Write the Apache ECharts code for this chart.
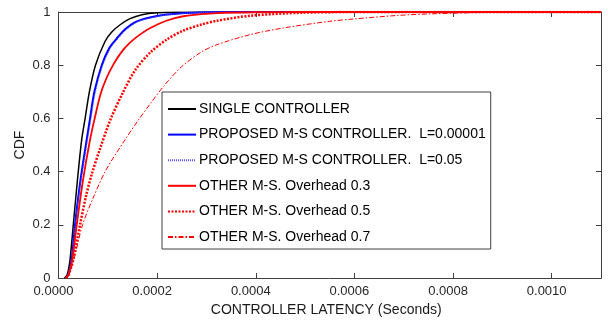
<!DOCTYPE html>
<html>
<head>
<meta charset="utf-8">
<script src="https://cdn.jsdelivr.net/npm/echarts@6/dist/echarts.min.js"></script>
<style>
html,body{margin:0;padding:0;background:#fff;}
#chart{width:608px;height:322px;}
</style>
</head>
<body>
<div id="chart"></div>
<script>
// ---- data (x in seconds, y = CDF) ----
var seriesNames = [
  'SINGLE CONTROLLER',
  'PROPOSED M-S CONTROLLER.  L=0.00001',
  'PROPOSED M-S CONTROLLER.  L=0.05',
  'OTHER M-S. Overhead 0.3',
  'OTHER M-S. Overhead 0.5',
  'OTHER M-S. Overhead 0.7'
];
var xTicks = [0, 0.0002, 0.0004, 0.0006, 0.0008, 0.0010];
var yTicks = [0, 0.2, 0.4, 0.6, 0.8, 1];

var singleX = [0.000012, 0.000017, 0.000020, 0.0000234, 0.000030, 0.000038, 0.000047, 0.000054, 0.0000626, 0.0000750, 0.0000945, 0.000108, 0.000125, 0.000145, 0.000169, 0.000200, 0.000250, 0.000300, 0.0011];
var singleY = [0, 0.01, 0.03, 0.068, 0.20, 0.36, 0.52, 0.60, 0.70, 0.80, 0.89, 0.925, 0.952, 0.975, 0.99, 0.997, 0.999, 1, 1];

var propAX = [0.000015, 0.000019, 0.000022, 0.0000268, 0.0000335, 0.000044, 0.0000572, 0.000064, 0.0000728, 0.0000877, 0.000103, 0.000118, 0.000135, 0.000159, 0.000200, 0.000250, 0.000290, 0.000350, 0.0011];
var propAY = [0, 0.01, 0.03, 0.068, 0.20, 0.36, 0.52, 0.60, 0.70, 0.80, 0.865, 0.90, 0.935, 0.965, 0.985, 0.995, 0.998, 1, 1];

var propBX = [0.000015, 0.000019, 0.000022, 0.000027, 0.000034, 0.000045, 0.000059, 0.000066, 0.000075, 0.000090, 0.000106, 0.000121, 0.000139, 0.000163, 0.000205, 0.000255, 0.000295, 0.000360, 0.0011];
var propBY = [0, 0.01, 0.03, 0.068, 0.20, 0.36, 0.52, 0.60, 0.70, 0.80, 0.865, 0.90, 0.935, 0.965, 0.985, 0.995, 0.998, 1, 1];

var other3X = [0.000015, 0.000020, 0.000023, 0.000028, 0.000037, 0.000049, 0.000064, 0.000074, 0.000085, 0.000097, 0.000112, 0.000128, 0.000145, 0.000165, 0.000186, 0.000220, 0.000253, 0.000290, 0.000321, 0.000400, 0.000500, 0.0011];
var other3Y = [0, 0.01, 0.03, 0.068, 0.20, 0.36, 0.52, 0.605, 0.69, 0.75, 0.805, 0.85, 0.885, 0.915, 0.94, 0.968, 0.984, 0.992, 0.996, 0.999, 1, 1];

var other5X = [0.000015, 0.000020, 0.000024, 0.000030, 0.0000437, 0.000056, 0.0000674, 0.000085, 0.000105, 0.000130, 0.000155, 0.000186, 0.000220, 0.000253, 0.000290, 0.000321, 0.000389, 0.000490, 0.000600, 0.0011];
var other5Y = [0, 0.01, 0.03, 0.068, 0.20, 0.31, 0.39, 0.49, 0.594, 0.695, 0.78, 0.848, 0.897, 0.93, 0.953, 0.967, 0.986, 0.997, 1, 1];

var other7X = [0.000015, 0.000022, 0.000031, 0.0000488, 0.000070, 0.000096, 0.000135, 0.000162, 0.000186, 0.000215, 0.000250, 0.000290, 0.000321, 0.000389, 0.000456, 0.000550, 0.000600, 0.000687, 0.000755, 0.000890, 0.0011];
var other7Y = [0, 0.02, 0.068, 0.20, 0.30, 0.405, 0.52, 0.594, 0.655, 0.725, 0.795, 0.85, 0.877, 0.915, 0.94, 0.965, 0.974, 0.987, 0.993, 0.999, 1];

function pairs(xs, ys) {
  var out = [];
  for (var i = 0; i < xs.length; i++) out.push([xs[i], ys[i]]);
  return out;
}

var chart = echarts.init(document.getElementById('chart'), null, {renderer: 'canvas'});
var FONT = 'Liberation Sans, Arial, Helvetica, sans-serif';
var AXC = '#404040';

function mkSeries(name, xs, ys, color, width, type) {
  return {
    name: name,
    type: 'line',
    data: pairs(xs, ys),
    showSymbol: false,
    symbol: 'none',
    smooth: 0.3,
    animation: false,
    lineStyle: {color: color, width: width, type: type},
    itemStyle: {color: color},
    emphasis: {disabled: true},
    z: 3
  };
}

var option = {
  animation: false,
  backgroundColor: '#ffffff',
  grid: {left: 58.5, right: 7, top: 12, bottom: 44, containLabel: false},
  xAxis: [{
    type: 'value',
    min: 0, max: 0.0011, interval: 0.0002,
    position: 'bottom',
    name: 'CONTROLLER LATENCY (Seconds)',
    nameLocation: 'middle',
    nameGap: 25,
    nameMoveOverlap: false,
    nameTextStyle: {fontFamily: FONT, fontSize: 14, color: '#1a1a1a', padding: [0, 7, 0, 0]},
    axisLine: {show: true, onZero: false, lineStyle: {color: AXC, width: 1}},
    axisTick: {show: true, inside: true, length: 5, lineStyle: {color: AXC}},
    splitLine: {show: false},
    axisLabel: {
      fontFamily: FONT, fontSize: 13, color: '#262626', margin: 7,
      padding: [0, 10, 0, 0],
      showMaxLabel: false,
      formatter: function (v) {
        for (var i = 0; i < xTicks.length; i++) {
          if (Math.abs(v - xTicks[i]) < 1e-9) return xTicks[i].toFixed(4);
        }
        return '';
      }
    }
  }, {
    type: 'value',
    min: 0, max: 0.0011, interval: 0.0002,
    position: 'top',
    axisLine: {show: true, onZero: false, lineStyle: {color: AXC, width: 1}},
    axisTick: {show: true, inside: true, length: 5, lineStyle: {color: AXC}},
    axisLabel: {show: false},
    splitLine: {show: false}
  }],
  yAxis: [{
    type: 'value',
    min: 0, max: 1, interval: 0.2,
    position: 'left',
    name: 'CDF',
    nameLocation: 'middle',
    nameGap: 31,
    nameMoveOverlap: false,
    nameTextStyle: {fontFamily: FONT, fontSize: 14, color: '#1a1a1a'},
    axisLine: {show: true, onZero: false, lineStyle: {color: AXC, width: 1}},
    axisTick: {show: true, inside: true, length: 5, lineStyle: {color: AXC}},
    splitLine: {show: false},
    axisLabel: {
      fontFamily: FONT, fontSize: 13, color: '#262626', margin: 8,
      formatter: function (v) {
        for (var i = 0; i < yTicks.length; i++) {
          if (Math.abs(v - yTicks[i]) < 1e-9) return String(yTicks[i]);
        }
        return '';
      }
    }
  }, {
    type: 'value',
    min: 0, max: 1, interval: 0.2,
    position: 'right',
    axisLine: {show: true, onZero: false, lineStyle: {color: AXC, width: 1}},
    axisTick: {show: true, inside: true, length: 5, lineStyle: {color: AXC}},
    axisLabel: {show: false},
    splitLine: {show: false}
  }],
  legend: {
    show: true,
    orient: 'vertical',
    left: 162,
    top: 92,
    itemWidth: 28,
    itemHeight: 14,
    itemGap: 11.6,
    padding: [10, 5, 5, 5],
    backgroundColor: '#ffffff',
    borderColor: '#404040',
    borderWidth: 1,
    selectedMode: false,
    itemStyle: {color: 'rgba(0,0,0,0)', borderWidth: 0, opacity: 0},
    textStyle: {fontFamily: FONT, fontSize: 14, color: '#000000', padding: [0, 0, 0, -2]},
    data: seriesNames
  },
  series: [
    mkSeries(seriesNames[0], singleX, singleY, '#000000', 1.5, 'solid'),
    mkSeries(seriesNames[1], propAX, propAY, '#0000ff', 2, 'solid'),
    mkSeries(seriesNames[2], propBX, propBY, '#5555ff', 1, [1, 1]),
    mkSeries(seriesNames[3], other3X, other3Y, '#ff0000', 1.8, 'solid'),
    mkSeries(seriesNames[4], other5X, other5Y, '#ff0000', 2.5, [2, 1.5]),
    mkSeries(seriesNames[5], other7X, other7Y, '#ff0000', 1, [5, 2, 1.5, 2])
  ]
};
chart.setOption(option);
</script>
</body>
</html>
